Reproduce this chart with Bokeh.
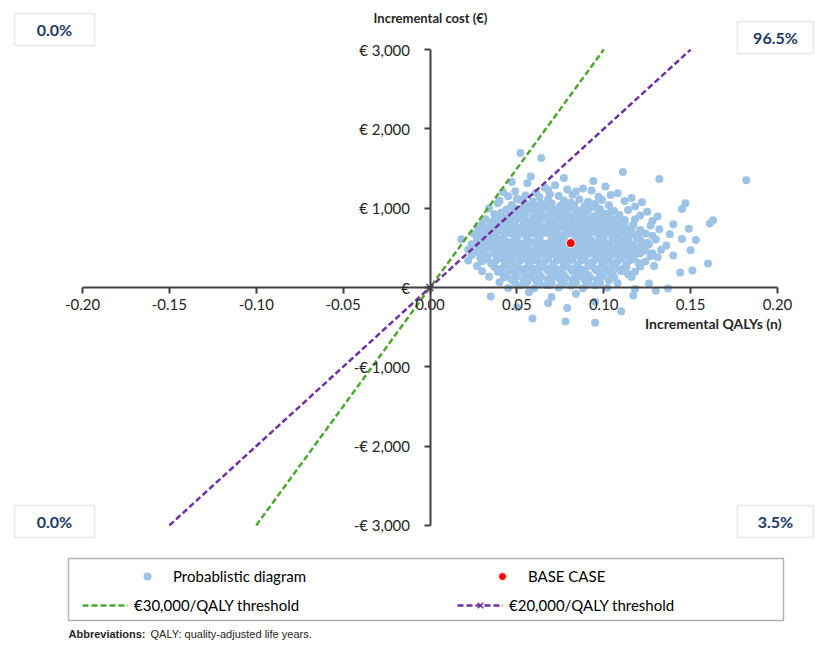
from bokeh.plotting import figure
from bokeh.models import (Range1d, FixedTicker, Label, BoxAnnotation, Legend, LegendItem)
from bokeh.embed import file_html
from bokeh.resources import INLINE

# ---------------- data ----------------
x_ticks = [-0.20, -0.15, -0.10, -0.05, 0.00, 0.05, 0.10, 0.15, 0.20]
x_tick_labels = ["-0.20", "-0.15", "-0.10", "-0.05", "0.00", "0.05", "0.10", "0.15", "0.20"]
y_ticks = [-3000, -2000, -1000, 0, 1000, 2000, 3000]
y_tick_labels = ["-€ 3,000", "-€ 2,000", "-€ 1,000", "€", "€ 1,000", "€ 2,000", "€ 3,000"]

quadrant_labels = ["0.0%", "96.5%", "0.0%", "3.5%"]  # NW, NE, SW, SE

base_qaly = [0.081]
base_cost = [560]

wtp30_qaly = [-0.10, 0.10]
wtp30_cost = [-3000, 3000]
wtp20_qaly = [-0.15, 0.00, 0.15]
wtp20_cost = [-3000, 0, 3000]
origin_qaly = [0.0]
origin_cost = [0.0]

# probabilistic sensitivity analysis simulations
psa_qaly = [
    0.052, 0.064, 0.111, 0.077, 0.058, 0.132, 0.182, 0.094, 0.056, 0.072, 0.047,
    0.066, 0.088, 0.101, 0.068, 0.049, 0.079, 0.093, 0.042, 0.061, 0.084, 0.108,
    0.045, 0.055, 0.063, 0.074, 0.082, 0.097, 0.104, 0.116, 0.050, 0.069,
    0.040, 0.052, 0.059, 0.068, 0.077, 0.086, 0.091, 0.099, 0.112, 0.122, 0.064, 0.081,
    0.039, 0.047, 0.055, 0.061, 0.070, 0.075, 0.083, 0.089, 0.095, 0.103, 0.118, 0.147, 0.058, 0.066, 0.079, 0.092,
    0.034, 0.044, 0.050, 0.057, 0.064, 0.071, 0.078, 0.085, 0.098, 0.106, 0.114, 0.125, 0.145, 0.053, 0.074, 0.088, 0.101,
    0.037, 0.046, 0.060, 0.067, 0.073, 0.080, 0.087, 0.094, 0.109, 0.121, 0.131, 0.041, 0.051, 0.063, 0.077, 0.084, 0.097, 0.104,
    0.032, 0.048, 0.055, 0.062, 0.069, 0.076, 0.083, 0.090, 0.112, 0.118, 0.128, 0.163, 0.036, 0.044, 0.058, 0.071, 0.086, 0.093, 0.100, 0.108,
    0.030, 0.039, 0.047, 0.054, 0.061, 0.068, 0.075, 0.082, 0.089, 0.096, 0.103, 0.110, 0.117, 0.127, 0.140, 0.161, 0.065, 0.079, 0.050,
    0.028, 0.035, 0.043, 0.057, 0.064, 0.071, 0.078, 0.085, 0.092, 0.099, 0.106, 0.113, 0.121, 0.132, 0.149, 0.040, 0.052, 0.069, 0.083, 0.095, 0.110,
    0.025, 0.033, 0.046, 0.054, 0.060, 0.067, 0.074, 0.081, 0.088, 0.097, 0.103, 0.116, 0.124, 0.138, 0.030, 0.038, 0.050, 0.063, 0.077, 0.091, 0.108, 0.119, 0.128,
    0.018, 0.027, 0.035, 0.042, 0.049, 0.056, 0.063, 0.070, 0.076, 0.087, 0.093, 0.100, 0.107, 0.114, 0.121, 0.130, 0.145, 0.153, 0.031, 0.045, 0.060, 0.072, 0.084, 0.097, 0.111, 0.125,
    0.024, 0.034, 0.041, 0.048, 0.055, 0.062, 0.069, 0.076, 0.090, 0.096, 0.103, 0.110, 0.117, 0.126, 0.136, 0.029, 0.038, 0.052, 0.066, 0.080, 0.094, 0.107, 0.122,
    0.022, 0.031, 0.039, 0.046, 0.053, 0.060, 0.067, 0.074, 0.081, 0.088, 0.095, 0.102, 0.109, 0.116, 0.124, 0.133, 0.150, 0.026, 0.043, 0.057, 0.071, 0.085, 0.099, 0.113, 0.128,
    0.024, 0.033, 0.040, 0.048, 0.055, 0.062, 0.069, 0.076, 0.083, 0.090, 0.097, 0.104, 0.111, 0.118, 0.127, 0.140, 0.029, 0.044, 0.058, 0.073, 0.087, 0.101, 0.115, 0.131,
    0.022, 0.030, 0.038, 0.045, 0.052, 0.059, 0.066, 0.073, 0.080, 0.087, 0.094, 0.101, 0.108, 0.115, 0.124, 0.160, 0.035, 0.049, 0.063, 0.077, 0.091, 0.105, 0.120,
    0.027, 0.037, 0.043, 0.050, 0.057, 0.064, 0.071, 0.078, 0.085, 0.092, 0.099, 0.106, 0.113, 0.121, 0.129, 0.041, 0.055, 0.069, 0.083, 0.097, 0.111,
    0.030, 0.039, 0.047, 0.054, 0.061, 0.068, 0.075, 0.082, 0.089, 0.096, 0.103, 0.110, 0.118, 0.144, 0.151, 0.044, 0.058, 0.072, 0.086, 0.100, 0.114,
    0.034, 0.043, 0.050, 0.057, 0.064, 0.071, 0.078, 0.085, 0.092, 0.099, 0.106, 0.116, 0.047, 0.061, 0.075, 0.089, 0.103,
    0.040, 0.049, 0.056, 0.063, 0.070, 0.077, 0.084, 0.091, 0.098, 0.108, 0.126, 0.052, 0.067, 0.081, 0.095,
    0.045, 0.060, 0.074, 0.088, 0.102, 0.137, 0.118, 0.035, 0.057, 0.070, 0.084, 0.117, 0.068, 0.095, 0.079, 0.059, 0.078, 0.095, 0.110, 0.050, 0.130,
    # denser core
    0.048, 0.054, 0.061, 0.068, 0.075, 0.082, 0.089, 0.096,
    0.041, 0.049, 0.055, 0.062, 0.069, 0.076, 0.084, 0.090, 0.097, 0.104,
    0.038, 0.045, 0.052, 0.059, 0.067, 0.073, 0.080, 0.087, 0.094, 0.101, 0.108,
    0.035, 0.042, 0.049, 0.056, 0.063, 0.071, 0.077, 0.084, 0.091, 0.098, 0.105, 0.112,
    0.032, 0.039, 0.046, 0.053, 0.060, 0.067, 0.074, 0.081, 0.088, 0.096, 0.102, 0.109, 0.116,
    0.029, 0.036, 0.043, 0.050, 0.057, 0.064, 0.071, 0.078, 0.085, 0.092, 0.099, 0.106, 0.113, 0.120,
    0.028, 0.035, 0.042, 0.049, 0.056, 0.063, 0.070, 0.077, 0.084, 0.091, 0.098, 0.105, 0.112, 0.119,
    0.031, 0.038, 0.045, 0.052, 0.059, 0.066, 0.073, 0.080, 0.087, 0.094, 0.101, 0.108, 0.115, 0.122,
    0.028, 0.035, 0.042, 0.049, 0.056, 0.063, 0.070, 0.077, 0.084, 0.091, 0.098, 0.105, 0.112, 0.119,
    0.030, 0.037, 0.044, 0.051, 0.058, 0.065, 0.072, 0.079, 0.086, 0.093, 0.100, 0.107, 0.114, 0.121,
    0.033, 0.040, 0.047, 0.054, 0.061, 0.068, 0.075, 0.082, 0.089, 0.096, 0.103, 0.110, 0.117,
    0.036, 0.043, 0.050, 0.057, 0.064, 0.071, 0.078, 0.085, 0.092, 0.099, 0.106, 0.113,
    0.039, 0.046, 0.053, 0.060, 0.067, 0.074, 0.081, 0.088, 0.095, 0.102, 0.109,
    0.042, 0.049, 0.056, 0.063, 0.070, 0.077, 0.084, 0.091, 0.098, 0.105,
    0.047, 0.054, 0.061, 0.068, 0.075, 0.082, 0.089, 0.096,
    0.055, 0.062, 0.069, 0.076, 0.083, 0.090,
]
psa_cost = [
    1696, 1633, 1456, 1380, 1400, 1367, 1354, 1342, 1316, 1290, 1330,
    1262, 1250, 1275, 1228, 1215, 1235, 1222, 1203, 1195, 1210, 1190,
    1150, 1160, 1140, 1155, 1170, 1145, 1165, 1130, 1120, 1175,
    1095, 1105, 1085, 1110, 1098, 1112, 1080, 1102, 1090, 1075, 1060, 1070,
    1063, 1040, 1050, 1035, 1058, 1030, 1045, 1025, 1055, 1038, 1020, 1063, 1010, 1015, 1005, 1000,
    1000, 985, 975, 990, 968, 980, 960, 972, 988, 965, 978, 955, 990, 945, 940, 950, 930,
    925, 915, 920, 905, 930, 912, 920, 900, 915, 908, 895, 890, 885, 880, 892, 875, 882, 870,
    860, 855, 848, 865, 852, 860, 845, 858, 850, 862, 840, 848, 830, 825, 835, 820, 828, 818, 832, 815,
    800, 795, 805, 790, 798, 785, 802, 792, 788, 800, 795, 785, 790, 782, 798, 808, 770, 765, 760,
    745, 740, 750, 735, 748, 730, 742, 738, 728, 745, 732, 740, 725, 735, 742, 715, 712, 705, 710, 700, 708,
    680, 672, 685, 668, 678, 690, 665, 682, 675, 668, 688, 670, 680, 672, 650, 645, 640, 655, 648, 642, 650, 638, 652,
    610, 600, 615, 605, 620, 598, 612, 602, 618, 608, 595, 615, 600, 610, 592, 605, 612, 598, 578, 575, 570, 582, 568, 575, 572, 565,
    545, 538, 550, 535, 548, 540, 552, 530, 545, 535, 550, 540, 532, 545, 530, 510, 505, 512, 508, 500, 515, 505, 498,
    480, 472, 485, 470, 478, 468, 482, 475, 470, 480, 465, 478, 470, 482, 468, 475, 470, 445, 440, 448, 435, 442, 438, 445, 432,
    410, 402, 415, 398, 408, 400, 412, 395, 405, 410, 398, 405, 400, 410, 398, 405, 375, 372, 380, 370, 378, 368, 375, 380,
    340, 332, 345, 330, 338, 342, 328, 340, 335, 345, 330, 338, 332, 340, 328, 304, 305, 300, 310, 298, 305, 300, 308,
    270, 262, 275, 260, 268, 258, 272, 265, 260, 270, 262, 268, 258, 265, 272, 235, 238, 230, 240, 232, 236,
    205, 198, 210, 195, 202, 208, 196, 204, 200, 210, 195, 205, 198, 190, 215, 170, 168, 175, 165, 172, 168,
    135, 128, 140, 125, 132, 138, 126, 135, 130, 138, 125, 132, 100, 95, 102, 98, 92,
    65, 58, 70, 55, 62, 68, 56, 64, 60, 55, 50, 25, 30, 22, 28,
    -5, -10, 0, -8, -3, -13, -20, -114, -60, -120, -80, -101, -200, -180, -260, -392, -430, -443, -300, -250, -40,
    # denser core
    1012, 1022, 1008, 1018, 1025, 1010, 1020, 1005,
    945, 952, 938, 948, 940, 955, 942, 950, 936, 946,
    875, 882, 868, 878, 872, 885, 870, 880, 866, 876, 870,
    810, 818, 805, 812, 820, 806, 815, 808, 818, 804, 812, 808,
    745, 752, 740, 748, 755, 742, 750, 738, 748, 752, 740, 746, 742,
    680, 688, 676, 684, 690, 678, 686, 674, 682, 690, 676, 684, 680, 676,
    615, 622, 610, 618, 625, 612, 620, 608, 616, 624, 610, 618, 612, 620,
    555, 562, 550, 558, 565, 552, 560, 548, 556, 564, 550, 558, 552, 560,
    490, 498, 486, 494, 500, 488, 496, 484, 492, 500, 486, 494, 488, 496,
    425, 432, 420, 428, 435, 422, 430, 418, 426, 434, 420, 428, 422, 430,
    360, 368, 356, 364, 370, 358, 366, 354, 362, 370, 356, 364, 358,
    295, 302, 290, 298, 305, 292, 300, 288, 296, 304, 290, 298,
    230, 238, 226, 234, 240, 228, 236, 224, 232, 240, 226,
    165, 172, 160, 168, 175, 162, 170, 158, 166, 174,
    100, 108, 96, 104, 110, 98, 106, 94,
    35, 42, 30, 38, 45, 32,
]

# ---------------- layout helpers (pixel -> data) ----------------
W, H = 815, 647
PX0, QPX = 429.5, 1737.5
PY0, CPY = 287.0, 0.0793


def dx(px):
    return (px - PX0) / QPX


def dy(py):
    return (PY0 - py) / CPY


p = figure(width=W, height=H, output_backend="svg", toolbar_location=None,
           x_range=Range1d(dx(0), dx(W)), y_range=Range1d(dy(H), dy(0)),
           min_border=0, outline_line_color=None)
p.grid.visible = False
p.background_fill_color = "white"
p.border_fill_color = "white"

FONT = "Lato"
AX_COL = "#404040"

# x axis through origin
xa = p.xaxis[0]
xa.fixed_location = 0
xa.ticker = FixedTicker(ticks=x_ticks)
xa.major_label_overrides = {t: s for t, s in zip(x_ticks, x_tick_labels)}
xa.bounds = (x_ticks[0], x_ticks[-1])
xa.axis_line_color = AX_COL
xa.axis_line_width = 2
xa.major_tick_line_color = AX_COL
xa.major_tick_line_width = 2
xa.major_tick_out = 6
xa.major_tick_in = 0
xa.minor_tick_line_color = None
xa.major_label_text_font = FONT
xa.major_label_text_font_size = "15px"
xa.major_label_text_color = "#262626"
xa.major_label_standoff = 5

# y axis through origin
ya = p.yaxis[0]
ya.fixed_location = 0
ya.ticker = FixedTicker(ticks=y_ticks)
ya.major_label_overrides = {t: s for t, s in zip(y_ticks, y_tick_labels)}
ya.bounds = (y_ticks[0], y_ticks[-1])
ya.axis_line_color = AX_COL
ya.axis_line_width = 2
ya.major_tick_line_color = AX_COL
ya.major_tick_line_width = 2
ya.major_tick_out = 6
ya.major_tick_in = 0
ya.minor_tick_line_color = None
ya.major_label_text_font = FONT
ya.major_label_text_font_size = "15px"
ya.major_label_text_color = "#262626"
ya.major_label_standoff = 14

# ---------------- glyphs ----------------
psa_r = p.scatter(psa_qaly, psa_cost, size=8, fill_color="#9DC3E6", line_color=None)
g30 = p.line(wtp30_qaly, wtp30_cost, line_color="#4EA72E", line_width=2.5, line_dash="6 3")
g20 = p.line(wtp20_qaly, wtp20_cost, line_color="#7030A0", line_width=2.5, line_dash="6 3")
x20 = p.scatter(origin_qaly, origin_cost, marker="x", size=10, line_color="#7030A0", line_width=1.5)
base_r = p.scatter(base_qaly, base_cost, size=9, fill_color="#FF0000", line_color="white", line_width=1)

# ---------------- axis titles ----------------
p.add_layout(Label(x=dx(430), y=dy(17), text="Incremental cost (€)", text_font=FONT,
                   text_font_style="bold", text_font_size="13px", text_align="center",
                   text_baseline="middle", text_color="#262626"))
p.add_layout(Label(x=dx(781), y=dy(323), text="Incremental QALYs (n)", text_font=FONT,
                   text_font_style="bold", text_font_size="14px", text_align="right",
                   text_baseline="middle", text_color="#262626"))

# ---------------- quadrant probability boxes ----------------
boxes = [(14, 94, 13, 45), (737, 813, 21, 53), (14, 94, 505, 537), (737, 813, 505, 537)]
for (l, r, t, b), txt in zip(boxes, quadrant_labels):
    p.add_layout(BoxAnnotation(left=dx(l), right=dx(r), top=dy(t), bottom=dy(b),
                               fill_color="white", fill_alpha=1.0,
                               line_color="#BFBFBF", line_width=2))
    p.add_layout(Label(x=dx((l + r) / 2), y=dy((t + b) / 2), text=txt, text_font=FONT,
                       text_font_style="bold", text_font_size="16px", text_align="center",
                       text_baseline="middle", text_color="#1F3864"))

# ---------------- legend ----------------
p.add_layout(BoxAnnotation(left=dx(68), right=dx(783), top=dy(558), bottom=dy(620),
                           fill_color="white", fill_alpha=1.0, line_color="black", line_width=1.5))

leg1 = Legend(items=[LegendItem(label="Probablistic diagram", renderers=[psa_r]),
                     LegendItem(label="BASE CASE", renderers=[base_r])],
              orientation="horizontal", location=(137, H - 566 - 20),
              glyph_width=20, glyph_height=20, label_standoff=16, label_width=309,
              spacing=10, padding=0, margin=0, border_line_color=None,
              background_fill_alpha=0, label_text_font=FONT, label_text_font_size="15px",
              label_text_color="black")
leg2 = Legend(items=[LegendItem(label="€30,000/QALY threshold", renderers=[g30]),
                     LegendItem(label="€20,000/QALY threshold", renderers=[g20, x20])],
              orientation="horizontal", location=(82, H - 595 - 20),
              glyph_width=46, glyph_height=20, label_standoff=6, label_width=313,
              spacing=10, padding=0, margin=0, border_line_color=None,
              background_fill_alpha=0, label_text_font=FONT, label_text_font_size="15px",
              label_text_color="black")
p.add_layout(leg1, "center")
p.add_layout(leg2, "center")

# ---------------- footnote ----------------
p.add_layout(Label(x=dx(68), y=dy(633), text="Abbreviations:", text_font="Liberation Sans",
                   text_font_style="bold", text_font_size="11px", text_align="left",
                   text_baseline="middle", text_color="#262626"))
p.add_layout(Label(x=dx(150), y=dy(633), text="QALY: quality-adjusted life years.",
                   text_font="Liberation Sans", text_font_size="11px", text_align="left",
                   text_baseline="middle", text_color="#262626"))

open("out.html", "w").write(file_html(p, INLINE))
